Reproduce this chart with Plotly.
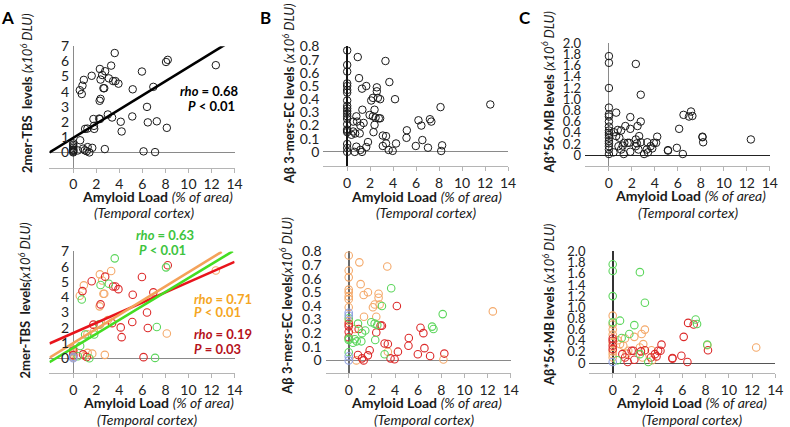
import plotly.graph_objects as go

# ---------------- data ----------------
# Panel A: 2mer-TBS levels vs amyloid load; group letters: o=orange, r=red, g=green, b=blue
A_load = [0, 0, 0, 0, 0, 0, 0, 0, 0,
          0.6, 0.57, 0.74, 0.8, 0.92, 0.4, 0.85, 1.0, 1.17, 1.25, 1.4, 1.65,
          1.03, 1.23, 1.75, 1.82, 1.8, 1.6, 2.25, 2.32, 2.29, 2.37, 2.31, 2.37,
          2.51, 2.62, 2.69, 2.77, 2.74, 3.0, 3.09, 3.29, 3.37, 3.46, 3.6, 3.66,
          3.92, 4.12, 4.2, 5.12, 5.16, 5.96, 6.1, 6.4, 6.47, 6.95, 7.1, 7.25,
          8.05, 8.2, 8.12, 12.37]
A_level = [0.6, 0.5, 0.4, 0.3, 0.2, 0.15, 0.1, 0.05, 0.0,
           0.8, 4.1, 3.85, 4.4, 4.78, 0.13, 0.25, 0.14, 0.08, 0.35, 0.0, 0.3,
           1.55, 1.57, 2.2, 1.55, 1.75, 5.05, 2.23, 2.2, 3.4, 3.53, 5.5, 4.8,
           5.1, 4.23, 4.23, 5.35, 0.22, 2.5, 4.88, 5.72, 2.3, 4.7, 6.55, 4.7,
           4.53, 2.02, 1.38, 2.37, 4.16, 5.33, 0.07, 3.0, 1.98, 4.32, 0.02, 2.05,
           5.96, 6.1, 1.62, 5.75]
A_group = ["o", "r", "o", "o", "r", "o", "b", "o", "b",
           "g", "o", "g", "r", "o", "g", "r", "o", "r", "o", "g", "o",
           "g", "o", "r", "g", "o", "r", "g", "o", "o", "r", "o", "g",
           "o", "o", "o", "r", "o", "o", "g", "o", "r", "r", "g", "r",
           "r", "r", "r", "r", "r", "r", "r", "r", "r", "r", "g", "g",
           "g", "r", "o", "o"]

# Panel B: A-beta 3-mers-EC levels
B_load = [0] * 21 + [
    0.92, 1.03, 1.29, 1.66, 2.58, 2.58, 2.09, 2.24, 2.67, 2.87, 3.67, 3.33, 4.16,
    0.8, 0.52, 0.86, 1.15, 1.43, 1.32, 1.95, 2.38, 2.24, 2.47, 2.75, 2.87, 2.38,
    2.29, 0.52, 0.69, 1.09, 0.37, 1.81, 0.8, 0.66, 1.15, 1.29, 1.66, 3.1, 3.38,
    3.1, 3.38, 3.61, 3.96, 4.25, 5.19, 5.16, 5.97, 6.2, 6.45, 6.54, 7.03, 7.2,
    7.32, 8.12, 8.18, 8.26, 12.45]
B_level = [0.77, 0.66, 0.61, 0.52, 0.50, 0.47, 0.45, 0.39, 0.35, 0.33, 0.31,
           0.29, 0.27, 0.25, 0.21, 0.17, 0.16, 0.15, 0.06, 0.03, 0.0,
           0.72, 0.56, 0.48, 0.5, 0.49, 0.46, 0.39, 0.41, 0.41, 0.40, 0.53, 0.69, 0.40,
           0.27, 0.23, 0.23, 0.2, 0.22, 0.32, 0.28, 0.32, 0.27, 0.26, 0.255, 0.255, 0.205,
           0.15, 0.155, 0.14, 0.14, 0.13, 0.075, 0.04, 0.0, 0.015, 0.0, 0.037, 0.124, 0.12,
           0.045, 0.064, 0.015, 0.008, 0.064, 0.164, 0.107, 0.045, 0.24, 0.2, 0.09, 0.032, 0.248,
           0.23, 0.34, 0.007, 0.05, 0.36]
B_group = ["o", "o", "o", "o", "o", "o", "o", "o", "b", "b", "g",
           "o", "r", "r", "r", "r", "g", "g", "g", "b", "b",
           "o", "o", "o", "o", "o", "o", "o", "o", "o", "g", "g", "o", "r",
           "g", "o", "r", "g", "g", "o", "g", "o", "g", "g", "r", "r", "r",
           "g", "g", "g", "g", "g", "r", "r", "o", "r", "r", "r", "r", "r",
           "g", "o", "r", "r", "r", "r", "r", "r", "r", "r", "r", "r", "g",
           "g", "g", "o", "r", "o"]

# Panel C: A-beta*56-MB levels
C_load = [0] * 17 + [
    0.63, 0.43, 0.77, 1.06, 0.63, 0.91, 0.83, 1.2, 1.34, 1.63, 1.77, 1.43, 1.86,
    1.86, 1.86, 1.29, 1.06, 0.4, 2.34, 2.77, 2.49, 2.77, 2.63, 2.34, 2.34, 2.57,
    2.77, 2.43, 3.06, 3.34, 3.29, 3.4, 3.63, 3.91, 4.2, 4.11, 3.77, 5.14, 5.14,
    5.91, 6.11, 6.43, 6.49, 6.97, 7.14, 7.26, 8.14, 8.14, 8.2, 12.35]
C_level = [1.77, 1.65, 1.2, 0.85, 0.73, 0.69, 0.6, 0.51, 0.44, 0.4, 0.36, 0.31, 0.25,
           0.21, 0.16, 0.1, 0.02,
           0.76, 0.41, 0.45, 0.44, 0.34, 0.31, 0.16, 0.17, 0.22, 0.22, 0.22, 0.52, 0.47,
           0.68, 0.06, 0.02, 0.1, 0.05, 1.63, 1.08, 0.52, 0.6, 0.34, 0.28, 0.16, 0.1,
           0.23, 0.21, 0.02, 0.23, 0.1, 0.05, 0.16, 0.22, 0.33, 0.22, 0.12, 0.09, 0.08,
           0.13, 0.47, 0.02, 0.72, 0.69, 0.78, 0.7, 0.33, 0.32, 0.23, 0.28]
C_group = ["g", "g", "g", "o", "g", "o", "o", "o", "r", "r", "o", "r", "r",
           "o", "o", "o", "b",
           "g", "o", "g", "o", "o", "o", "r", "o", "o", "r", "r", "g", "o",
           "g", "r", "r", "r", "g", "g", "g", "o", "o", "o", "o", "g", "o",
           "r", "r", "g", "o", "r", "o", "r", "r", "r", "r", "r", "r", "r",
           "r", "r", "r", "r", "r", "g", "g", "g", "o", "r", "o"]

# regression line end points (load, level)
A_fit_x = [-2.06, 13.17]
A_fit_y = [0.0, 7.1]
A_green_x = [-2.06, 13.85]
A_green_y = [-0.26, 7.02]
A_orange_x = [-2.06, 12.88]
A_orange_y = [0.03, 6.98]
A_red_x = [-2.06, 14.0]
A_red_y = [0.96, 6.32]

x_ticks = [0, 2, 4, 6, 8, 10, 12, 14]
A_ticks = [0, 1, 2, 3, 4, 5, 6, 7]
B_ticks = [0, 0.1, 0.2, 0.3, 0.4, 0.5, 0.6, 0.7, 0.8]
B_ticktext = ["0", "0.1", "0.2", "0.3", "0.4", "0.5", "0.6", "0.7", "0.8"]
C_ticks = [0, 0.2, 0.4, 0.6, 0.8, 1.0, 1.2, 1.4, 1.6, 1.8, 2.0]
C_ticktext = ["0", "0.2", "0.4", "0.6", "0.8", "1.0", "1.2", "1.4", "1.6", "1.8", "2.0"]

# ---------------- styling ----------------
W, H = 790, 427
FONT = "Lato"
COL = {"g": "#5cd65c", "o": "#f4a96a", "r": "#dc2a2a", "b": "#8fa0e0"}


def px(xp):
    return xp / W


def py(yp):
    return 1 - yp / H


fig = go.Figure()

panels = [
    # name, xs, ys, groups, x px domain, x range, y px domain, y range, row
    ("1", A_load, A_level, A_group, (50, 237), (-2.06, 14), (38, 162), (-1, 7), "top"),
    ("2", B_load, B_level, B_group, (326.7, 513.3), (-2.07, 14), (38.3, 160.8), (-0.11, 0.8), "top"),
    ("3", C_load, C_level, C_group, (591, 777.7), (-2.08, 14), (35, 160.7), (-0.2, 2.0), "top"),
    ("4", A_load, A_level, A_group, (50, 237), (-2.06, 14), (247.7, 372.3), (-1, 7), "bot"),
    ("5", B_load, B_level, B_group, (328.9, 516), (-2.0, 14), (247.7, 372.3), (-0.096, 0.8), "bot"),
    ("6", C_load, C_level, C_group, (595.5, 783.3), (-2.0, 14), (247.7, 372.3), (-0.186, 2.0), "bot"),
]

layout_axes = {}
for n, xs, ys, gs, xd, xr, yd, yr, row in panels:
    xa = "x" if n == "1" else "x" + n
    ya = "y" if n == "1" else "y" + n
    if row == "top":
        fig.add_trace(go.Scatter(
            x=xs, y=ys, mode="markers", xaxis=xa, yaxis=ya, showlegend=False,
            marker=dict(symbol="circle-open", size=7.5, color="#1a1a1a", line=dict(width=1)),
            hoverinfo="skip"))
    else:
        for g in ["o", "r", "g", "b"]:
            gx = [x for x, gg in zip(xs, gs) if gg == g]
            gy = [y for y, gg in zip(ys, gs) if gg == g]
            fig.add_trace(go.Scatter(
                x=gx, y=gy, mode="markers", xaxis=xa, yaxis=ya, showlegend=False,
                marker=dict(symbol="circle-open", size=7.5, color=COL[g], line=dict(width=1.1)),
                hoverinfo="skip"))

    is_A = n in ("1", "4")
    vline_col = {"1": "#8a8a8a", "2": "#111111", "3": "#8a8a8a",
                 "4": "#8a8a8a", "5": "#6a6a6a", "6": "#333333"}[n]
    vline_w = {"1": 1, "2": 1.6, "3": 1, "4": 1, "5": 2, "6": 1.8}[n]
    hline_col = {"1": "#8a8a8a", "2": "#8a8a8a", "3": "#222222",
                 "4": "#8a8a8a", "5": "#8a8a8a", "6": "#555555"}[n]
    hline_w = {"1": 1, "2": 1, "3": 1.4, "4": 1, "5": 1.2, "6": 1.4}[n]

    xkey = "xaxis" if n == "1" else "xaxis" + n
    ykey = "yaxis" if n == "1" else "yaxis" + n
    layout_axes[xkey] = dict(
        domain=[px(xd[0]), px(xd[1])], range=list(xr), anchor=ya,
        tickvals=x_ticks, ticktext=[str(t) for t in x_ticks],
        showgrid=False, zeroline=True, zerolinecolor=vline_col, zerolinewidth=vline_w,
        showline=True, linecolor="#b5b5b5", linewidth=1,
        ticks="outside", ticklen=4, tickcolor="#b5b5b5",
        tickfont=dict(family=FONT, size=14, color="#222"), fixedrange=True)
    if is_A:
        ytv, ytt, ysz = A_ticks, [str(t) for t in A_ticks], 14
    elif n in ("2", "5"):
        ytv, ytt, ysz = B_ticks, B_ticktext, 14
    else:
        ytv, ytt, ysz = C_ticks, C_ticktext, 13
    yax = dict(
        domain=[py(yd[1]), py(yd[0])], range=list(yr),
        tickvals=ytv, ticktext=ytt, showgrid=False,
        zeroline=True, zerolinecolor=hline_col, zerolinewidth=hline_w,
        showline=False, ticks="",
        tickfont=dict(family=FONT, size=ysz, color="#222"), fixedrange=True)
    if is_A:
        # labels sit next to the vertical axis at load = 0
        x0_px = xd[0] + (0 - xr[0]) / (xr[1] - xr[0]) * (xd[1] - xd[0])
        yax.update(anchor="free", position=px(x0_px), ticklabelstandoff=4)
    else:
        yax.update(anchor=xa, ticklabelstandoff=3)
    layout_axes[ykey] = yax

# regression lines
fig.add_trace(go.Scatter(x=A_fit_x, y=A_fit_y, mode="lines", xaxis="x", yaxis="y",
                         line=dict(color="#000000", width=2.6), showlegend=False, hoverinfo="skip"))
fig.add_trace(go.Scatter(x=A_red_x, y=A_red_y, mode="lines", xaxis="x4", yaxis="y4",
                         line=dict(color="#e8141c", width=2.6), showlegend=False, hoverinfo="skip"))
fig.add_trace(go.Scatter(x=A_orange_x, y=A_orange_y, mode="lines", xaxis="x4", yaxis="y4",
                         line=dict(color="#f4a25a", width=2.6), showlegend=False, hoverinfo="skip"))
fig.add_trace(go.Scatter(x=A_green_x, y=A_green_y, mode="lines", xaxis="x4", yaxis="y4",
                         line=dict(color="#44dd22", width=2.6), showlegend=False, hoverinfo="skip"))

fig.update_layout(width=W, height=H, autosize=False,
                  margin=dict(l=0, r=0, t=0, b=0),
                  paper_bgcolor="white", plot_bgcolor="white",
                  font=dict(family=FONT, color="#222"),
                  **layout_axes)


def ann(text, x, y, size=14, color="#1a1a1a", angle=0, xanchor="center"):
    fig.add_annotation(text=text, x=px(x), y=py(y), xref="paper", yref="paper",
                       showarrow=False, textangle=angle, xanchor=xanchor, yanchor="middle",
                       font=dict(family=FONT, size=size, color=color))


# panel letters
ann("<b>A</b>", 8, 9, size=17, color="#000")
ann("<b>B</b>", 268, 9, size=17, color="#000")
ann("<b>C</b>", 530, 9, size=17, color="#000")

# y titles
ann("<b>2mer-TBS  levels</b> <i>(x10<sup>6</sup> DLU)</i>", 26, 86, size=13, angle=-90)
ann("<b>2mer-TBS  levels</b><i>(x10<sup>6</sup> DLU)</i>", 25, 298, size=13, angle=-90)
ann("<b>Aβ 3-mers-EC levels</b> <i>(x10<sup>6</sup> DLU)</i>", 291, 87, size=13, angle=-90)
ann("<b>Aβ 3-mers-EC levels</b><i>(x10<sup>6</sup> DLU)</i>", 289, 304, size=13, angle=-90)
ann("<b>Aβ*56-MB levels</b> <i>(x10<sup>6</sup> DLU)</i>", 553, 85, size=13, angle=-90)
ann("<b>Aβ*56-MB levels</b> <i>(x10<sup>6</sup> DLU)</i>", 554, 302, size=13, angle=-90)

# x titles
for (cx1, cy1, cx2, cy2) in [(159, 192, 145, 208), (431, 192, 430, 208), (698, 191, 695, 208),
                             (160, 402, 149, 419), (431, 402, 428, 419), (699, 402, 699, 419)]:
    ann("<b>Amyloid Load</b> <i>(% of area)</i>", cx1, cy1, size=14)
    ann("<i>(Temporal cortex)</i>", cx2, cy2, size=14)

# statistics
ann("<b><i>rho</i> = 0.68</b>", 180, 84, size=13, color="#000", xanchor="left")
ann("<b><i>P</i> < 0.01</b>", 188, 99, size=13, color="#000", xanchor="left")
ann("<b><i>rho</i> = 0.63</b>", 135, 231, size=13, color="#3ec43e", xanchor="left")
ann("<b><i>P</i> < 0.01</b>", 138, 246, size=13, color="#3ec43e", xanchor="left")
ann("<b><i>rho</i> = 0.71</b>", 194, 296, size=13, color="#f5a623", xanchor="left")
ann("<b><i>P</i> < 0.01</b>", 194, 310, size=13, color="#f5a623", xanchor="left")
ann("<b><i>rho</i> = 0.19</b>", 194, 332, size=13, color="#b5121b", xanchor="left")
ann("<b><i>P</i> = 0.03</b>", 194, 347, size=13, color="#b5121b", xanchor="left")

fig.write_html("out.html", config={"displayModeBar": False},
               post_script="document.body.style.margin='0';document.body.style.padding='0';")
